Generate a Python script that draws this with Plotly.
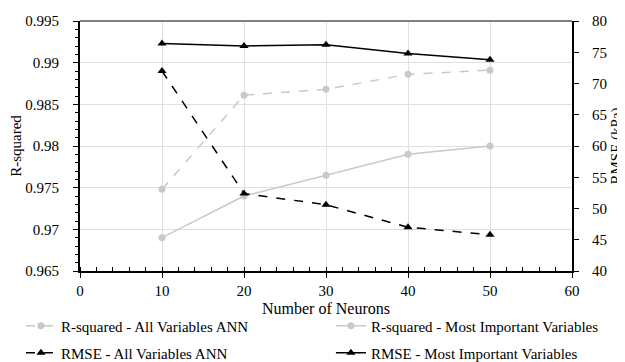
import plotly.graph_objects as go

neurons = [10, 20, 30, 40, 50]
r2_all = [0.9748, 0.9861, 0.9868, 0.9886, 0.9891]
r2_most = [0.9690, 0.9740, 0.9765, 0.9790, 0.9800]
rmse_all = [72.0, 52.4, 50.6, 47.0, 45.8]
rmse_most = [76.4, 76.0, 76.2, 74.8, 73.8]

y_left_ticks = [0.965, 0.97, 0.975, 0.98, 0.985, 0.99, 0.995]
y_left_text = ["0.965", "0.97", "0.975", "0.98", "0.985", "0.99", "0.995"]
y_right_ticks = [40, 45, 50, 55, 60, 65, 70, 75, 80]
x_ticks = [0, 10, 20, 30, 40, 50, 60]

FONT = "Liberation Serif"
GRAY = "#c9c9c9"

fig = go.Figure()
fig.add_trace(go.Scatter(x=neurons, y=r2_all, name="R-squared - All Variables ANN",
                         mode="lines+markers", line=dict(color=GRAY, width=1.5, dash="dash"),
                         marker=dict(symbol="circle", size=7, color=GRAY), legend="legend",
                         showlegend=True))
fig.add_trace(go.Scatter(x=neurons, y=r2_most, name="R-squared - Most Important Variables",
                         mode="lines+markers", line=dict(color=GRAY, width=1.5),
                         marker=dict(symbol="circle", size=7, color=GRAY), legend="legend2",
                         showlegend=True))
fig.add_trace(go.Scatter(x=neurons, y=rmse_all, name="RMSE - All Variables ANN", yaxis="y2",
                         mode="lines+markers", line=dict(color="black", width=1.5, dash="dash"),
                         marker=dict(symbol="triangle-up", size=8, color="black"), legend="legend3",
                         showlegend=True))
fig.add_trace(go.Scatter(x=neurons, y=rmse_most, name="RMSE - Most Important Variables", yaxis="y2",
                         mode="lines+markers", line=dict(color="black", width=1.5),
                         marker=dict(symbol="triangle-up", size=8, color="black"), legend="legend4",
                         showlegend=True))

def leg(x, y):
    return dict(orientation="h", xanchor="left", yanchor="middle", x=x, y=y,
                font=dict(family=FONT, size=15, color="black"),
                bgcolor="rgba(0,0,0,0)", itemclick=False, borderwidth=0)

# page has an 8px body margin; figure 617x354, plot area 492x250
fig.update_layout(
    width=617, height=354,
    showlegend=True,
    margin=dict(l=72, r=53, t=13, b=91, autoexpand=False),
    paper_bgcolor="white", plot_bgcolor="white",
    font=dict(family=FONT, size=15, color="black"),
    xaxis=dict(range=[0, 60], tickvals=x_ticks, showgrid=True, gridcolor="#e0e0e0", gridwidth=1,
               showline=True, linecolor="black", linewidth=2, ticks="outside", ticklen=5,
               tickcolor="black", zeroline=False, automargin=False,
               tickfont=dict(family=FONT, size=15),
               minor=dict(dtick=2, ticks="inside", ticklen=4, tickcolor="black", showgrid=False),
               title=dict(text="Number of Neurons", standoff=5, font=dict(family=FONT, size=16))),
    yaxis=dict(range=[0.965, 0.995], tickvals=y_left_ticks, ticktext=y_left_text,
               showgrid=True, gridcolor="#e0e0e0", gridwidth=1, showline=True, linecolor="black",
               linewidth=2, ticks="outside", ticklen=5, tickcolor="black", zeroline=False,
               automargin=False, tickfont=dict(family=FONT, size=15), ticklabelstandoff=11,
               minor=dict(dtick=0.001, ticks="outside", ticklen=3, tickcolor="black", showgrid=False),
               title=dict(text="R-squared", standoff=8, font=dict(family=FONT, size=15))),
    yaxis2=dict(range=[40, 80], tickvals=y_right_ticks, overlaying="y", side="right",
                showgrid=False, showline=True, linecolor="black", linewidth=2,
                ticks="outside", ticklen=5, tickcolor="black", zeroline=False,
                automargin=False, tickfont=dict(family=FONT, size=15), ticklabelstandoff=10,
                title=dict(text="RMSE (kPa)", standoff=6, font=dict(family=FONT, size=15))),
    legend=leg(-0.12, -0.22),
    legend2=leg(0.51, -0.22),
    legend3=leg(-0.12, -0.328),
    legend4=leg(0.51, -0.328),
    shapes=[dict(type="line", xref="paper", yref="paper", x0=0, x1=1, y0=1, y1=1,
                 line=dict(color="#595959", width=1.5))],
)

fig.write_html("out.html")
